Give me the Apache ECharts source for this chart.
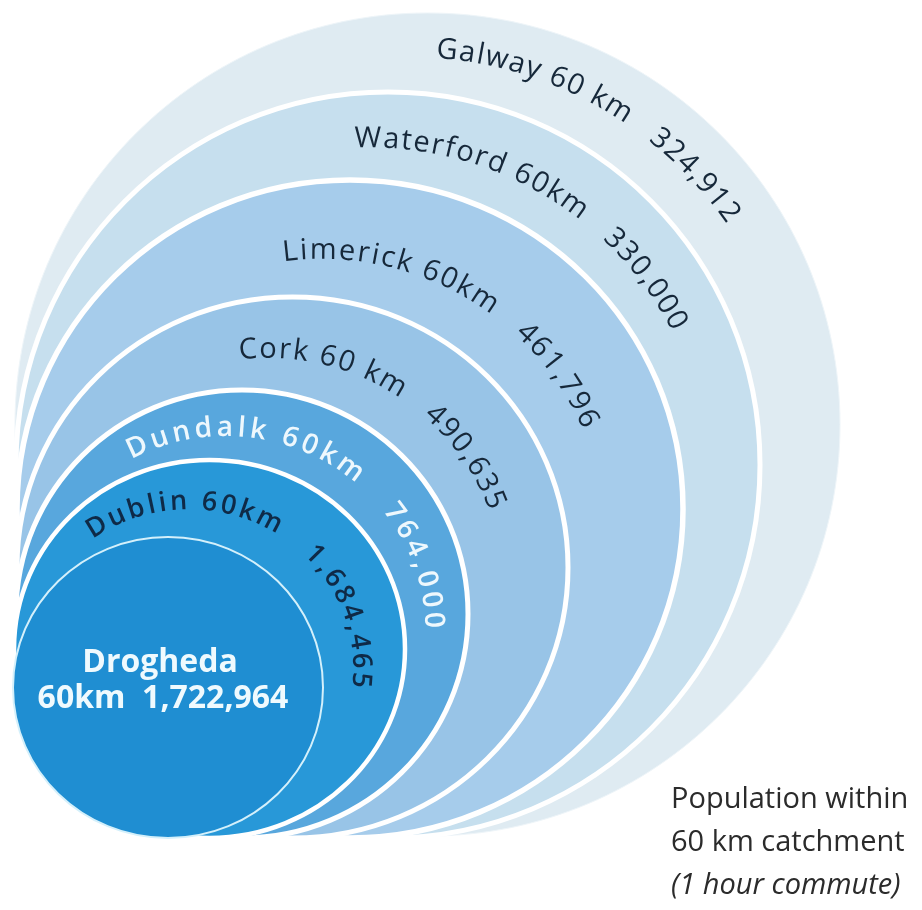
<!DOCTYPE html>
<html><head><meta charset="utf-8">
<script src="https://cdn.jsdelivr.net/npm/echarts@6/dist/echarts.min.js"></script>
<style>html,body{margin:0;padding:0;background:#fff}#c{width:922px;height:910px}</style>
</head><body><div id="c"></div>
<script>
// ---- data ----
const cities = ['Drogheda','Dublin','Dundalk','Cork','Limerick','Waterford','Galway'];
const populations = [1722964,1684465,764000,490635,461796,330000,324912];
const catchment = ['60km','60km','60km','60 km','60km','60km','60 km'];
const noteLines = ['Population within','60 km catchment','(1 hour commute)'];

// ---- layout (ellipse bounding boxes, axis units) ----
const boxLeft   = [13, 14, 16, 17, 17, 16, 15];
const boxRight  = [323, 405, 468, 568, 683, 760, 840];
const boxTop    = [537, 460, 390, 297, 180, 92, 13];
const boxBottom = [838, 838, 838, 838, 838, 838, 836];
// ---- styles ----
const fills = ['#1f8ed2','#2898d8','#58a7dd','#98c4e7','#a6cceb','#c6dfee','#dfebf2'];
const strokeColors = ['#d4f0fb','#ffffff','#ffffff','#ffffff','#ffffff','#ffffff','#eef5f9'];
const strokeWidths = [2, 4.5, 5, 5, 5.5, 5, 1];
const arcStart  = [0, -122.2, -115.2, -94.5, -96.1, -90.2, -84.3];
const arcEnd    = [0, 4.0, -3.2, -22.1, -24.6, -28.6, -35.9];
const arcOffset = [0, -3, -3, -6, -12, -3, 4];
const labelColor  = ['#effafe','#0f2a47','#eef8fd','#16283a','#16283a','#16283a','#16283a'];
const labelWeight = ['bold','600','600','normal','normal','normal','normal'];
const labelSize   = [32, 27, 28, 29, 29, 29, 29];
const FAMILY = '"Open Sans", "Noto Sans", sans-serif';

const fmt = v => v.toLocaleString('en-US');
const mctx = document.createElement('canvas').getContext('2d');
function measure(ch, font) { mctx.font = font; return mctx.measureText(ch).width; }

function ellipseOf(api, i) {
  const p1 = api.coord([boxLeft[i], boxTop[i]]);
  const p2 = api.coord([boxRight[i], boxBottom[i]]);
  return { cx: (p1[0] + p2[0]) / 2, cy: (p1[1] + p2[1]) / 2,
           rx: Math.abs(p2[0] - p1[0]) / 2, ry: Math.abs(p2[1] - p1[1]) / 2 };
}

function arcText(text, e, t0, t1, font, fill) {
  const a = t0 * Math.PI / 180, b = t1 * Math.PI / 180;
  const N = 2000, tbl = [0];
  const sp = t => Math.hypot(e.rx * Math.sin(t), e.ry * Math.cos(t));
  for (let k = 1; k <= N; k++) {
    const ta = a + (b - a) * (k - 1) / N, tb = a + (b - a) * k / N;
    tbl.push(tbl[k - 1] + sp((ta + tb) / 2) * (tb - ta));
  }
  const L = tbl[N];
  const chars = Array.from(text);
  const w = chars.map(c => measure(c, font));
  let nat = 0;
  for (let k = 1; k < chars.length; k++) nat += w[k - 1] / 2 + w[k] / 2;
  const extra = (L - nat) / (chars.length - 1);
  const out = [];
  let s = 0, idx = 0;
  chars.forEach((c, k) => {
    if (k > 0) s += w[k - 1] / 2 + w[k] / 2 + extra;
    while (idx < N && tbl[idx + 1] < s) idx++;
    const seg = tbl[idx + 1] - tbl[idx] || 1;
    const f = Math.min(1, Math.max(0, (s - tbl[idx]) / seg));
    const t = a + (b - a) * (idx + f) / N;
    const x = e.cx + e.rx * Math.cos(t), y = e.cy + e.ry * Math.sin(t);
    const phi = Math.atan2(e.ry * Math.cos(t), -e.rx * Math.sin(t));
    if (c.trim() === '') return;
    out.push({ type: 'text', x, y, rotation: -phi, silent: true,
      style: { text: c, fill, font, align: 'center', verticalAlign: 'middle',
               textAlign: 'center', textVerticalAlign: 'middle' } });
  });
  return out;
}

function renderItem(params, api) {
  const i = api.value(0);
  const e = ellipseOf(api, i);
  const children = [{ type: 'ellipse', shape: e,
    style: { fill: fills[i], stroke: strokeColors[i], lineWidth: strokeWidths[i] } }];
  const font = `${labelWeight[i]} ${labelSize[i]}px ${FAMILY}`;
  if (i > 0) {
    const inner = ellipseOf(api, i - 1);
    const o = arcOffset[i];
    const mid = { cx: (e.cx + inner.cx) / 2, cy: (e.cy + inner.cy) / 2,
                  rx: (e.rx + inner.rx) / 2 + o, ry: (e.ry + inner.ry) / 2 + o };
    const txt = cities[i] + ' ' + catchment[i] + '   ' + fmt(populations[i]);
    children.push(...arcText(txt, mid, arcStart[i], arcEnd[i], font, labelColor[i]));
  } else {
    const st = { fill: labelColor[i], font, align: 'center', verticalAlign: 'middle',
                 textAlign: 'center', textVerticalAlign: 'middle' };
    children.push({ type: 'text', x: e.cx - 8, y: e.cy - 25, style: Object.assign({ text: cities[i] }, st) });
    children.push({ type: 'text', x: e.cx - 5, y: e.cy + 11,
      style: Object.assign({ text: catchment[i] + '  ' + fmt(populations[i]) }, st) });
  }
  return { type: 'group', children };
}

const order = cities.map((_, i) => [cities.length - 1 - i]);

const chart = echarts.init(document.getElementById('c'), null, { renderer: 'canvas' });
chart.setOption({
  animation: false,
  backgroundColor: '#ffffff',
  grid: { left: 0, right: 0, top: 0, bottom: 0 },
  xAxis: { type: 'value', min: 0, max: 922, show: false },
  yAxis: { type: 'value', min: 0, max: 910, inverse: true, show: false },
  series: [{ type: 'custom', renderItem, data: order, encode: { x: -1, y: -1 } }],
  graphic: noteLines.map((t, k) => ({
    type: 'text', x: 671, y: 800 + k * 43,
    style: { text: t, fill: '#2b2b2b', textVerticalAlign: 'middle', verticalAlign: 'middle',
             font: `${k === 2 ? 'italic ' : ''}normal 29px ${FAMILY}` }
  }))
});
</script></body></html>
